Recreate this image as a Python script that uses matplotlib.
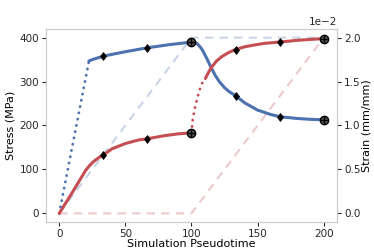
import matplotlib
matplotlib.use("Agg")
import matplotlib.pyplot as plt

# Stress (blue)
blue_dot_x = [0, 22.5]
blue_dot_y = [0, 347]
blue_x = [22.5, 25, 33.3, 50, 66.7, 83, 100, 102, 104, 106, 108, 110, 112, 115, 118, 121, 125, 129,
          133.3, 140, 150, 160, 166.7, 180, 190, 200]
blue_y = [347, 350, 358, 368, 377, 384, 390, 389.5, 387, 381, 373, 362, 350, 331, 314, 300, 286, 276,
          268, 252, 235, 225, 220, 216, 214, 213]

# Stress (red)
red_x1 = [0, 5, 10, 15, 20, 23, 26, 30, 33.3, 40, 50, 60, 66.7, 80, 90, 100]
red_y1 = [0, 24, 48, 73, 98, 109, 118, 127, 133, 147, 159, 167, 170, 177, 181, 183]
red_dot_x = [100, 100.5, 101, 102.5, 104.3, 106, 108, 110.5]
red_dot_y = [183, 200, 215, 239, 261, 280, 296, 307]
red_x2 = [110.5, 113, 115.5, 119, 123, 128, 133.3, 140, 145, 155, 166.7, 180, 190, 200]
red_y2 = [307, 322, 334, 347, 357, 366, 373, 379, 382, 387, 390, 394, 396, 398]

# markers
diam_x_blue = [33.3, 66.7, 133.3, 166.7]
diam_y_blue = [358, 377, 268, 220]
diam_x_red = [33.3, 66.7, 133.3, 166.7]
diam_y_red = [133, 170, 373, 390]
circ_x = [100, 200, 100, 200]
circ_y = [390, 213, 183, 398]

# strain (right axis)
strain_t = [0, 100, 200]
strain_blue = [0.0, 0.02, 0.02]
strain_red = [0.0, 0.0, 0.02]
strain_ticks = [0.0, 0.005, 0.01, 0.015, 0.02]

blue = '#4c72b0'
red = '#c44e52'

fig = plt.figure(figsize=(3.74, 2.49), dpi=100)
ax = fig.add_axes([0.123, 0.108, 0.778, 0.776])
ax2 = ax.twinx()

ax2.plot(strain_t, strain_blue, color=blue, alpha=0.3, lw=1.5, ls=(0, (4, 3)))
ax2.plot(strain_t, strain_red, color=red, alpha=0.3, lw=1.5, ls=(0, (4, 3)))
ax2.set_ylim(-0.001, 0.021)
ax2.set_yticks(strain_ticks)
ax2.ticklabel_format(axis='y', style='sci', scilimits=(0, 0))
ax2.set_ylabel('Strain (mm/mm)', fontsize=8, labelpad=1)

ax.set_zorder(ax2.get_zorder() + 1)
ax.patch.set_visible(False)

ax.plot(blue_dot_x, blue_dot_y, color=blue, lw=2.0, ls=(0, (0.1, 2.2)), dash_capstyle='round')
ax.plot(blue_x, blue_y, color=blue, lw=2.2, solid_capstyle='round', solid_joinstyle='round')
ax.plot(red_x1, red_y1, color=red, lw=2.2, solid_capstyle='round', solid_joinstyle='round')
ax.plot(red_dot_x, red_dot_y, color=red, lw=2.0, ls=(0, (0.1, 2.2)), dash_capstyle='round')
ax.plot(red_x2, red_y2, color=red, lw=2.2, solid_capstyle='round', solid_joinstyle='round')

ax.plot(diam_x_blue, diam_y_blue, 'd', color='k', ms=4.5, mew=0.5)
ax.plot(diam_x_red, diam_y_red, 'd', color='k', ms=4.5, mew=0.5)
ax.plot(circ_x, circ_y, 'o', mfc='0.35', mec='k', ms=6, mew=1.0)
ax.plot(circ_x, circ_y, '+', color='k', ms=6, mew=1.0)

ax.set_xlim(-10, 210)
ax.set_ylim(-20, 420)
ax.set_xticks([0, 50, 100, 150, 200])
ax.set_yticks([0, 100, 200, 300, 400])
ax.set_xlabel('Simulation Pseudotime', fontsize=8, labelpad=0)
ax.set_ylabel('Stress (MPa)', fontsize=8, labelpad=3)

for a in (ax, ax2):
    for s in a.spines.values():
        s.set_color('#cccccc')
    a.tick_params(labelsize=7.5, colors='#262626', length=3, width=0.8, pad=2)
    a.yaxis.get_offset_text().set_fontsize(7.5)

fig.savefig('out.png', dpi=100)
